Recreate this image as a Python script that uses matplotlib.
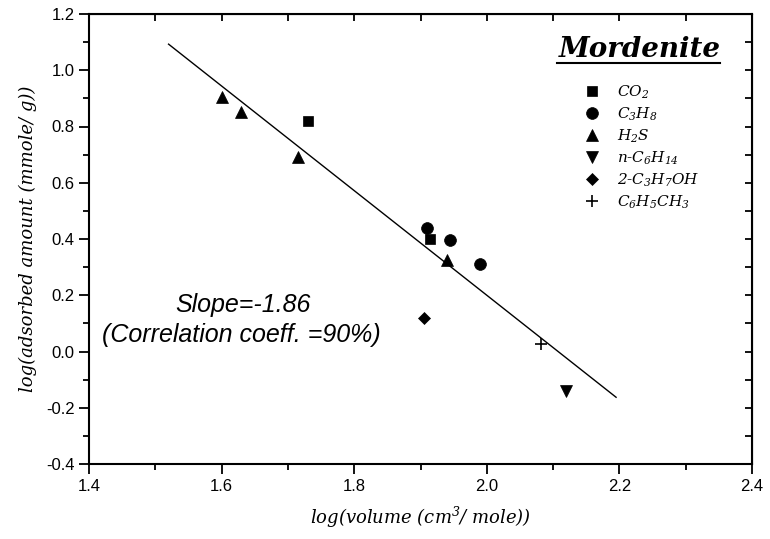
import numpy as np
import matplotlib
matplotlib.use("Agg")
import matplotlib.pyplot as plt
from matplotlib.ticker import MultipleLocator

plt.rcParams['mathtext.fontset'] = 'custom'
plt.rcParams['mathtext.it'] = 'DejaVu Serif:italic'
plt.rcParams['mathtext.rm'] = 'DejaVu Serif:italic'

# data: (log volume, log adsorbed amount)
co2_x = [1.73, 1.915]
co2_y = [0.82, 0.40]
c3h8_x = [1.91, 1.945, 1.99]
c3h8_y = [0.44, 0.395, 0.31]
h2s_x = [1.60, 1.63, 1.715, 1.94]
h2s_y = [0.905, 0.85, 0.69, 0.325]
hexane_x = [2.12]
hexane_y = [-0.14]
propanol_x = [1.905]
propanol_y = [0.12]
toluene_x = [2.082]
toluene_y = [0.027]

# fitted line
slope = -1.86
intercept = 3.92
fit_range = [1.52, 2.195]

series = [
    (co2_x, co2_y, 's', 7.5, r'$CO_2$'),
    (c3h8_x, c3h8_y, 'o', 8.5, r'$C_3H_8$'),
    (h2s_x, h2s_y, '^', 9, r'$H_2S$'),
    (hexane_x, hexane_y, 'v', 9, r'n-$C_6H_{14}$'),
    (propanol_x, propanol_y, 'D', 6.5, r'2-$C_3H_7OH$'),
    (toluene_x, toluene_y, '+', 9, r'$C_6H_5CH_3$'),
]

fig = plt.figure(figsize=(7.7, 5.39), dpi=100)
ax = fig.add_axes([89/770, 75/539, 663/770, 450/539])

fx = np.array(fit_range)
ax.plot(fx, slope*fx + intercept, color='black', linewidth=1.0)

for xs, ys, m, ms, lab in series:
    ax.plot(xs, ys, linestyle='none', marker=m, markersize=ms, color='black',
            markeredgewidth=1.2 if m == '+' else 0.5, label=lab)

ax.set_xlim(1.4, 2.4)
ax.set_ylim(-0.4, 1.2)
ax.xaxis.set_major_locator(MultipleLocator(0.2))
ax.xaxis.set_minor_locator(MultipleLocator(0.1))
ax.yaxis.set_major_locator(MultipleLocator(0.2))
ax.yaxis.set_minor_locator(MultipleLocator(0.1))
ax.xaxis.set_major_formatter(plt.FormatStrFormatter('%.1f'))
ax.yaxis.set_major_formatter(plt.FormatStrFormatter('%.1f'))

for s in ax.spines.values():
    s.set_linewidth(1.5)
ax.tick_params(which='both', direction='out', width=1.3, bottom=True, left=True,
               top=False, right=False)
ax.tick_params(which='major', length=7)
ax.tick_params(which='minor', length=4)
for lbl in ax.get_xticklabels() + ax.get_yticklabels():
    lbl.set_fontfamily('Liberation Sans')
    lbl.set_fontsize(12)

# inward ticks on top and right
sec_x = ax.secondary_xaxis('top')
sec_x.xaxis.set_major_locator(MultipleLocator(0.1))
sec_x.tick_params(direction='in', length=5, width=1.3, labeltop=False)
sec_y = ax.secondary_yaxis('right')
sec_y.yaxis.set_major_locator(MultipleLocator(0.1))
sec_y.tick_params(direction='in', length=5, width=1.3, labelright=False)

ax.set_xlabel(r'log(volume (cm$^3$/ mole))', family='DejaVu Serif', style='italic',
              fontsize=13, labelpad=8)
ax.set_ylabel('log(adsorbed amount (mmole/ g))', family='DejaVu Serif', style='italic',
              fontsize=13, labelpad=6)

ax.text(0.130, 0.338, 'Slope=-1.86', transform=ax.transAxes, ha='left', va='baseline',
        family='Liberation Sans', style='italic', fontsize=18)
ax.text(0.019, 0.271, '(Correlation coeff. =90%)', transform=ax.transAxes, ha='left',
        va='baseline', family='Liberation Sans', style='italic', fontsize=18)

ax.text(0.831, 0.904, 'Mordenite', transform=ax.transAxes, ha='center', va='baseline',
        family='DejaVu Serif', style='italic', weight='bold', fontsize=20)
ax.plot([0.706, 0.952], [0.891, 0.891], transform=ax.transAxes, color='black',
        linewidth=1.5, clip_on=False)

ax.legend(loc='upper left', bbox_to_anchor=(0.736, 0.862), frameon=False,
          prop={'family': 'DejaVu Serif', 'style': 'italic', 'size': 11},
          handlelength=1.0, handletextpad=1.1, labelspacing=0.3, borderpad=0)

fig.savefig('out.png', dpi=100)
